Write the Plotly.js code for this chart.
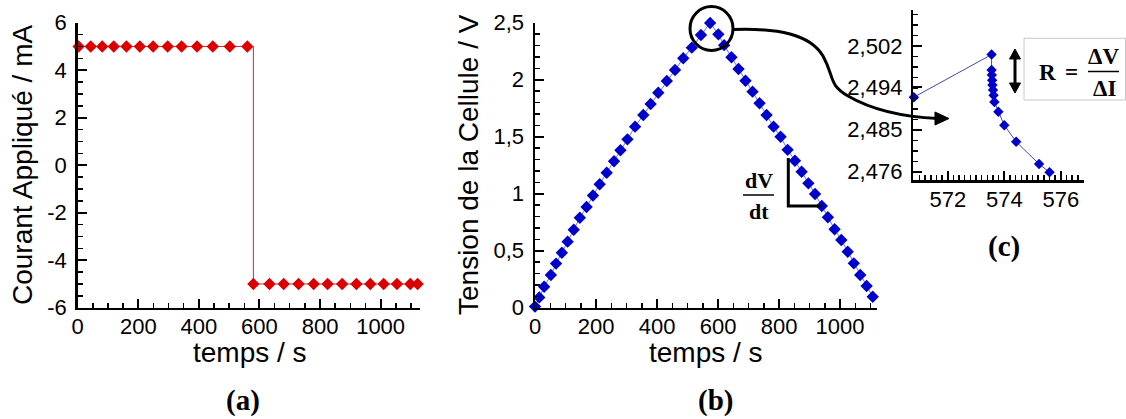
<!DOCTYPE html>
<html>
<head>
<meta charset="utf-8">
<script src="https://cdn.plot.ly/plotly-3.0.1.min.js"></script>
<style>
html,body{margin:0;padding:0;background:#fff;}
#chart{width:1126px;height:419px;}
</style>
</head>
<body>
<div id="chart"></div>
<script>
// ---------- DATA ----------
// (a) applied current vs time
const currentTime  = [3, 43, 81, 119, 161, 205, 249, 297, 343, 394, 446, 502, 560,
                      580, 633, 680, 729, 779, 825, 873, 920, 966, 1010, 1054, 1098, 1122];
const currentValue = [5, 5, 5, 5, 5, 5, 5, 5, 5, 5, 5, 5, 5,
                      -5, -5, -5, -5, -5, -5, -5, -5, -5, -5, -5, -5, -5];
const currentTicks = [6, 4, 2, 0, -2, -4, -6];
const currentTickText = ['6', '4', '2', '0', '-2', '-4', '-6'];

// (b) cell voltage vs time
const voltTime  = [0, 14, 30, 52, 69, 88, 107, 127, 147, 169, 190, 212, 235, 259, 280, 303, 328, 355,
                   379, 404, 432, 459, 486, 514, 544, 574,
                   601, 620, 644, 667, 690, 713, 736, 759, 782, 805, 828, 852, 874, 896, 918, 940,
                   960, 982, 1004, 1025, 1045, 1066, 1087, 1107];
const voltValue = [0.01, 0.09, 0.184, 0.287, 0.387, 0.482, 0.579, 0.684, 0.789, 0.883, 0.984, 1.083,
                   1.184, 1.285, 1.381, 1.477, 1.588, 1.690, 1.787, 1.886, 1.989, 2.085, 2.188, 2.281,
                   2.392, 2.497,
                   2.398, 2.303, 2.197, 2.094, 1.991, 1.895, 1.793, 1.690, 1.588, 1.500, 1.385, 1.289,
                   1.193, 1.091, 0.997, 0.892, 0.793, 0.688, 0.594, 0.491, 0.389, 0.287, 0.190, 0.096];

// (c) zoom on the current reversal
const insetTime  = [570.8, 573.55, 573.55, 573.56, 573.57, 573.58, 573.6, 573.62, 573.65,
                    573.79, 574.0, 574.42, 575.23, 575.6];
const insetValue = [2.4917, 2.5005, 2.4973, 2.4963, 2.4952, 2.4942, 2.4932, 2.4921, 2.4907,
                    2.4887, 2.4859, 2.4825, 2.4779, 2.4762];
const insetYTicks = [2.4763, 2.4850, 2.4937, 2.5023];
const insetYTickText = ['2,476', '2,485', '2,494', '2,502'];
const insetXTicks = [572, 574, 576];

// ---------- HELPERS (pixel -> paper) ----------
const W = 1126, H = 419;
const px = x => x / W;
const py = y => 1 - y / H;
function path(pts) {
  return pts.map(p => p[0] + ' ' + p.slice(1).reduce((s, v, i) =>
    s + (i % 2 === 0 ? px(v).toFixed(5) : ',' + py(v).toFixed(5) + ' '), '')).join(' ');
}

const sans = 'Liberation Sans, Arial, sans-serif';
const serif = 'Liberation Serif, Times New Roman, serif';

function baseAxis(extra) {
  return Object.assign({
    showline: true, linecolor: '#000', linewidth: 2.5, mirror: false,
    showgrid: false, zeroline: false,
    ticks: 'inside', ticklen: 9, tickwidth: 2, tickcolor: '#000',
    tickfont: {family: sans, size: 22, color: '#000'},
    fixedrange: true
  }, extra);
}
const minorStyle = {ticks: 'inside', ticklen: 5, tickwidth: 1.5, tickcolor: '#000'};

// ---------- TRACES ----------
const traces = [
  {
    x: currentTime, y: currentValue, xaxis: 'x', yaxis: 'y',
    type: 'scatter', mode: 'lines+markers',
    line: {color: '#cc2a2a', width: 1, shape: 'hv'},
    marker: {symbol: 'diamond', size: 9.5, color: '#dd0000'},
    cliponaxis: false, hoverinfo: 'skip'
  },
  {
    x: voltTime, y: voltValue, xaxis: 'x2', yaxis: 'y2',
    type: 'scatter', mode: 'lines+markers',
    line: {color: '#7070dd', width: 1},
    marker: {symbol: 'diamond', size: 9.5, color: '#0000cc'},
    cliponaxis: false, hoverinfo: 'skip'
  },
  {
    x: insetTime, y: insetValue, xaxis: 'x3', yaxis: 'y3',
    type: 'scatter', mode: 'lines+markers',
    line: {color: '#4848a8', width: 1},
    marker: {symbol: 'diamond', size: 8, color: '#0000cc'},
    cliponaxis: false, hoverinfo: 'skip'
  }
];

// ---------- LAYOUT ----------
const layout = {
  width: W, height: H, autosize: false,
  margin: {l: 0, r: 0, t: 0, b: 0, pad: 0},
  paper_bgcolor: '#fff', plot_bgcolor: 'rgba(0,0,0,0)',
  showlegend: false,
  separators: ', ',
  xaxis: baseAxis({domain: [px(77.7), px(420)], range: [0, 1130], anchor: 'y',
    tickmode: 'linear', tick0: 0, dtick: 200, ticklabelstandoff: -3,
    minor: Object.assign({tickmode: 'linear', tick0: 0, dtick: 50}, minorStyle)}),
  yaxis: baseAxis({domain: [py(307.7), py(22.7)], range: [-6, 6], anchor: 'x',
    tickmode: 'array', tickvals: currentTicks, ticktext: currentTickText, ticklabelstandoff: 4,
    minor: Object.assign({tickmode: 'linear', tick0: 0, dtick: 0.5}, minorStyle)}),
  xaxis2: baseAxis({domain: [px(535), px(877)], range: [0, 1121], anchor: 'y2',
    tickmode: 'linear', tick0: 0, dtick: 200, ticklabelstandoff: -3,
    minor: Object.assign({tickmode: 'linear', tick0: 0, dtick: 50}, minorStyle)}),
  yaxis2: baseAxis({domain: [py(307.7), py(22.7)], range: [0, 2.5], anchor: 'x2',
    tickmode: 'linear', tick0: 0, dtick: 0.5, ticklabelstandoff: 4,
    minor: Object.assign({tickmode: 'linear', tick0: 0, dtick: 0.1}, minorStyle)}),
  xaxis3: baseAxis({domain: [px(913.3), px(1084)], range: [570.78, 576.82], anchor: 'y3',
    tickmode: 'array', tickvals: insetXTicks, ticklabelstandoff: -2,
    minor: Object.assign({tickmode: 'linear', tick0: 570, dtick: 0.2}, minorStyle)}),
  yaxis3: baseAxis({domain: [py(180), py(10)], range: [2.4746, 2.5097], anchor: 'x3',
    tickmode: 'array', tickvals: insetYTicks, ticktext: insetYTickText, ticklabelstandoff: 4,
    minor: Object.assign({tickmode: 'linear', tick0: 2.4763, dtick: 0.0021675}, minorStyle)}),
  shapes: [
    {type: 'circle', xref: 'paper', yref: 'paper', x0: px(690), x1: px(733), y0: py(50.5), y1: py(6.5),
     line: {color: '#000', width: 3}},
    {type: 'path', xref: 'paper', yref: 'paper', line: {color: '#000', width: 3},
     path: path([['M', 733, 29.5], ['C', 778, 28, 810, 34, 823, 56], ['C', 835, 78, 828, 84, 848, 96],
                 ['C', 872, 110, 905, 117, 938, 118.5]])},
    {type: 'path', xref: 'paper', yref: 'paper', line: {color: '#000', width: 1}, fillcolor: '#000',
     path: path([['M', 935, 112], ['L', 949, 118.5], ['L', 935, 125]]) + ' Z'},
    {type: 'path', xref: 'paper', yref: 'paper', line: {color: '#000', width: 3},
     path: path([['M', 788.3, 158], ['L', 788.3, 206], ['L', 822, 206]])},
    {type: 'line', xref: 'paper', yref: 'paper', x0: px(743), x1: px(774), y0: py(195), y1: py(195),
     line: {color: '#000', width: 1.5}},
    {type: 'rect', xref: 'paper', yref: 'paper', x0: px(1024), x1: px(1125.5), y0: py(100), y1: py(38.3),
     line: {color: '#c8c8c8', width: 1}},
    {type: 'line', xref: 'paper', yref: 'paper', x0: px(1088), x1: px(1119), y0: py(71.5), y1: py(71.5),
     line: {color: '#000', width: 1.5}},
    {type: 'line', xref: 'paper', yref: 'paper', x0: px(1015), x1: px(1015), y0: py(56), y1: py(86),
     line: {color: '#000', width: 3}},
    {type: 'path', xref: 'paper', yref: 'paper', line: {color: '#000', width: 1}, fillcolor: '#000',
     path: path([['M', 1009.5, 59], ['L', 1015, 49], ['L', 1020.5, 59]]) + ' Z'},
    {type: 'path', xref: 'paper', yref: 'paper', line: {color: '#000', width: 1}, fillcolor: '#000',
     path: path([['M', 1009.5, 83], ['L', 1015, 93], ['L', 1020.5, 83]]) + ' Z'}
  ],
  annotations: [
    {text: 'Courant Appliqué / mA', xref: 'paper', yref: 'paper', x: px(22), y: py(165), textangle: -90,
     showarrow: false, xanchor: 'center', yanchor: 'middle', font: {family: sans, size: 28, color: '#000'}},
    {text: 'temps / s', xref: 'paper', yref: 'paper', x: px(250), y: py(352.5),
     showarrow: false, xanchor: 'center', yanchor: 'middle', font: {family: sans, size: 28, color: '#000'}},
    {text: 'Tension de la Cellule / V', xref: 'paper', yref: 'paper', x: px(468), y: py(165), textangle: -90,
     showarrow: false, xanchor: 'center', yanchor: 'middle', font: {family: sans, size: 28, color: '#000'}},
    {text: 'temps / s', xref: 'paper', yref: 'paper', x: px(706), y: py(352.5),
     showarrow: false, xanchor: 'center', yanchor: 'middle', font: {family: sans, size: 28, color: '#000'}},
    {text: '<b>(a)</b>', xref: 'paper', yref: 'paper', x: px(242.5), y: py(400),
     showarrow: false, xanchor: 'center', yanchor: 'middle', font: {family: serif, size: 29, color: '#000'}},
    {text: '<b>(b)</b>', xref: 'paper', yref: 'paper', x: px(715), y: py(400),
     showarrow: false, xanchor: 'center', yanchor: 'middle', font: {family: serif, size: 29, color: '#000'}},
    {text: '<b>(c)</b>', xref: 'paper', yref: 'paper', x: px(1004), y: py(246.5),
     showarrow: false, xanchor: 'center', yanchor: 'middle', font: {family: serif, size: 29, color: '#000'}},
    {text: '<b>dV</b>', xref: 'paper', yref: 'paper', x: px(758.5), y: py(180),
     showarrow: false, xanchor: 'center', yanchor: 'middle', font: {family: serif, size: 22, color: '#000'}},
    {text: '<b>dt</b>', xref: 'paper', yref: 'paper', x: px(758.5), y: py(211),
     showarrow: false, xanchor: 'center', yanchor: 'middle', font: {family: serif, size: 22, color: '#000'}},
    {text: '<b>R</b>', xref: 'paper', yref: 'paper', x: px(1047.5), y: py(72),
     showarrow: false, xanchor: 'center', yanchor: 'middle', font: {family: serif, size: 23, color: '#000'}},
    {text: '<b>=</b>', xref: 'paper', yref: 'paper', x: px(1071.5), y: py(72),
     showarrow: false, xanchor: 'center', yanchor: 'middle', font: {family: serif, size: 23, color: '#000'}},
    {text: '<b>ΔV</b>', xref: 'paper', yref: 'paper', x: px(1103), y: py(56),
     showarrow: false, xanchor: 'center', yanchor: 'middle', font: {family: serif, size: 23, color: '#000'}},
    {text: '<b>ΔI</b>', xref: 'paper', yref: 'paper', x: px(1104), y: py(88),
     showarrow: false, xanchor: 'center', yanchor: 'middle', font: {family: serif, size: 23, color: '#000'}}
  ]
};

Plotly.newPlot('chart', traces, layout, {displayModeBar: false, staticPlot: true});
</script>
</body>
</html>
